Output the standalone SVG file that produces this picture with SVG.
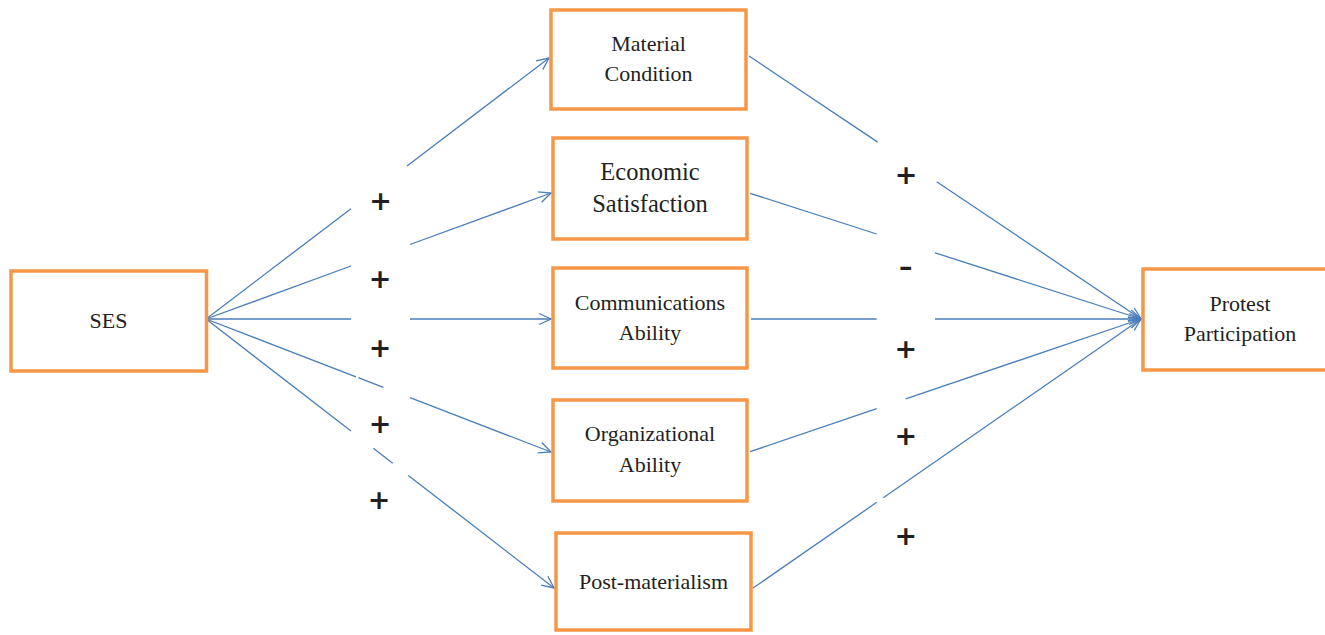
<svg xmlns="http://www.w3.org/2000/svg" width="1325" height="635" viewBox="0 0 1325 635">
<style>
.box{fill:#fff;stroke:#F79646;stroke-width:3.5}
.lbl{font-family:"Liberation Serif","Times New Roman",serif;font-size:22px;fill:#231F20;text-anchor:middle}
.big{font-size:24.5px}
.sign{font-family:"DejaVu Sans",sans-serif;font-size:27px;font-weight:bold;fill:#231F20;text-anchor:middle}
.edge{fill:none;stroke:#4A7EBB;stroke-width:1.3;marker-end:url(#arr)}
</style>
<defs>
<marker id="arr" markerUnits="userSpaceOnUse" markerWidth="14" markerHeight="14" viewBox="0 0 14 14" refX="13" refY="7" orient="auto">
<path d="M1,1.5 L13,7 L1,12.5" fill="none" stroke="#4A7EBB" stroke-width="1.3"/>
</marker>
</defs>
<g id="connectors">
<path class="edge" d="M206,319 L351,208.7 M407,166.1 L549,58"/>
<path class="edge" d="M206,319 L351,266 M410,244.5 L551,193"/>
<path class="edge" d="M206,319 L351,319 M410,319 L551,319"/>
<path class="edge" d="M206,319 L356,376.8 M358.3,377.7 L383.3,387.3 M410,397.6 L551,452"/>
<path class="edge" d="M206,319 L351,431.1 M373.3,448.3 L392.7,463.3 M408.3,475.4 L554,588"/>
<path class="edge" d="M749,56 L877.7,142.1 M936.7,181.7 L1141,319"/>
<path class="edge" d="M750,193.3 L876.7,234 M935,252.8 L1141,319"/>
<path class="edge" d="M751,319 L876.7,319 M935,319 L1141,319"/>
<path class="edge" d="M750,451.7 L876.7,408.7 M905.7,398.9 L1141,319"/>
<path class="edge" d="M752.7,588.3 L876.7,502.3 M883.3,497.7 L1141,319"/>
</g>
<g id="signs">
<text class="sign" x="380.5" y="210">+</text>
<text class="sign" x="380" y="288">+</text>
<text class="sign" x="380" y="357">+</text>
<text class="sign" x="380" y="433">+</text>
<text class="sign" x="379" y="509">+</text>
<text class="sign" x="906" y="184">+</text>
<text class="sign" x="905.7" y="276">–</text>
<text class="sign" x="905.7" y="358">+</text>
<text class="sign" x="905.7" y="445">+</text>
<text class="sign" x="905.7" y="545">+</text>
</g>
<g id="ses"><rect class="box" x="11" y="271" width="195.5" height="100"/><text class="lbl" x="108.5" y="328">SES</text></g>
<g id="material"><rect class="box" x="551" y="10" width="195" height="99"/><text class="lbl" x="648.5" y="51">Material</text><text class="lbl" x="648.5" y="81">Condition</text></g>
<g id="economic"><rect class="box" x="553" y="138" width="194" height="101"/><text class="lbl big" x="650" y="180">Economic</text><text class="lbl big" x="650" y="212">Satisfaction</text></g>
<g id="communications"><rect class="box" x="553" y="268" width="194" height="100"/><text class="lbl" x="650" y="310">Communications</text><text class="lbl" x="650" y="340">Ability</text></g>
<g id="organizational"><rect class="box" x="553" y="400" width="194" height="101"/><text class="lbl" x="650" y="441">Organizational</text><text class="lbl" x="650" y="472">Ability</text></g>
<g id="postmaterialism"><rect class="box" x="556" y="533" width="195" height="97"/><text class="lbl" x="653.5" y="589">Post-materialism</text></g>
<g id="protest"><rect class="box" x="1143" y="269" width="194" height="101"/><text class="lbl" x="1240" y="311">Protest</text><text class="lbl" x="1240" y="341">Participation</text></g>
</svg>
